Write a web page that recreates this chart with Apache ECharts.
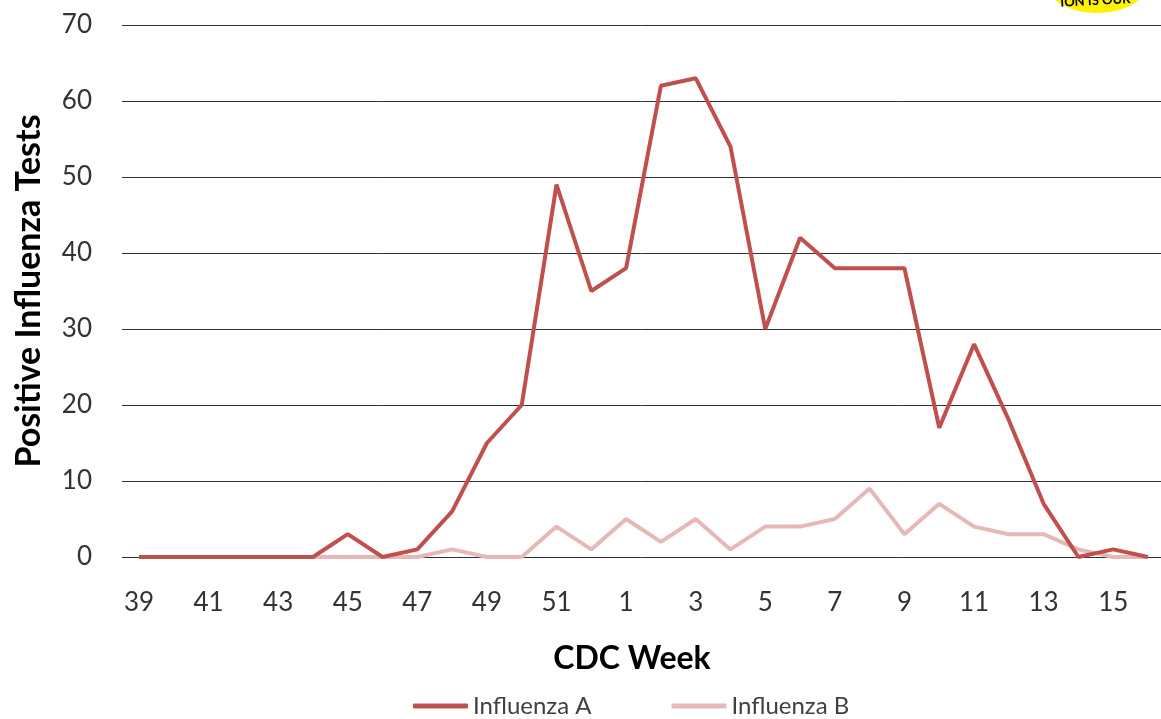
<!DOCTYPE html>
<html><head><meta charset="utf-8">
<script src="https://cdn.jsdelivr.net/npm/echarts@6/dist/echarts.min.js"></script>
<style>html,body{margin:0;padding:0;background:#fff}#c{width:1161px;height:719px}</style>
</head><body><div id="c"></div>
<script>
const weeks = ['39','40','41','42','43','44','45','46','47','48','49','50','51','52','1','2','3','4','5','6','7','8','9','10','11','12','13','14','15','16'];
const fluA = [0,0,0,0,0,0,3,0,1,6,15,20,49,35,38,62,63,54,30,42,38,38,38,17,28,18,7,0,1,0];
const fluB = [0,0,0,0,0,0,0,0,0,1,0,0,4,1,5,2,5,1,4,4,5,9,3,7,4,3,3,1,0,0];
const yTicks = {min:0,max:70,interval:10};
const FONT = 'Lato, "Open Sans", sans-serif';
const chart = echarts.init(document.getElementById('c'));
chart.setOption({
  animation:false,
  backgroundColor:'#fff',
  grid:[
    {left:122,right:0,top:25,height:532},
    {left:139,width:1009,top:25,height:532}
  ],
  legend:{
    top:689,left:408,itemWidth:55,itemHeight:5,itemGap:80,
    icon:'roundRect',
    textStyle:{fontFamily:FONT,fontSize:24,color:'#404040'},
    data:['Influenza A','Influenza B']
  },
  xAxis:[
    {gridIndex:0,type:'category',data:weeks,show:false},
    {gridIndex:1,type:'category',data:weeks,boundaryGap:false,
     name:'CDC Week',nameLocation:'middle',nameGap:86,
     nameTextStyle:{fontFamily:FONT,fontSize:32,fontWeight:'bold',color:'#000',padding:[0,23,0,0]},
     axisLine:{show:false},axisTick:{show:false},splitLine:{show:false},
     axisLabel:{interval:1,margin:33,fontFamily:FONT,fontSize:26,color:'#333'}}
  ],
  yAxis:[
    {gridIndex:0,type:'value',min:yTicks.min,max:yTicks.max,interval:yTicks.interval,
     name:'Positive Influenza Tests',nameLocation:'middle',nameGap:76,
     nameTextStyle:{fontFamily:FONT,fontSize:34,fontWeight:'bold',color:'#000'},
     axisLine:{show:false},axisTick:{show:false},
     axisLabel:{margin:30,fontFamily:FONT,fontSize:26,color:'#333'},
     splitLine:{show:true,lineStyle:{color:'#303030',width:1}}},
    {gridIndex:1,type:'value',min:yTicks.min,max:yTicks.max,interval:yTicks.interval,show:false,
     splitLine:{show:false}}
  ],
  series:[
    {name:'Influenza A',type:'line',xAxisIndex:1,yAxisIndex:1,data:fluA,symbol:'none',z:3,
     lineStyle:{color:'#C0504D',width:4},itemStyle:{color:'#C0504D'}},
    {name:'Influenza B',type:'line',xAxisIndex:1,yAxisIndex:1,data:fluB,symbol:'none',z:2,
     lineStyle:{color:'#E6B9B8',width:4},itemStyle:{color:'#E6B9B8'}}
  ],
  graphic:[
    {type:'ellipse',shape:{cx:1097,cy:-16,rx:50,ry:29},style:{fill:'#FFF200'}},
    {type:'text',x:1060,y:-4,rotation:0.05,style:{text:'ION IS OUR',font:'bold 13px '+FONT,fill:'#000'}}
  ]
});
</script></body></html>
